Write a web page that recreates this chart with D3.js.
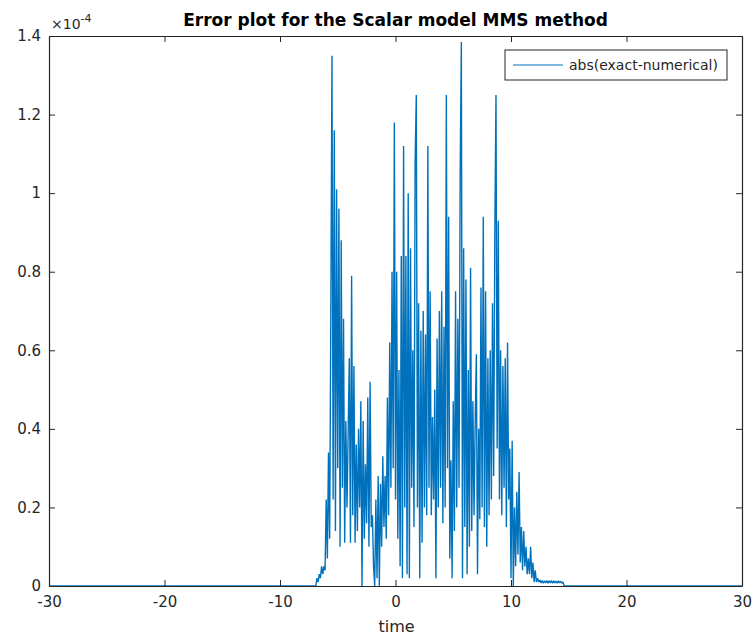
<!DOCTYPE html>
<html>
<head>
<meta charset="utf-8">
<script src="https://cdn.jsdelivr.net/npm/d3@7"></script>
<style>
  body { margin: 0; background: #fff; }
  svg { display: block; font-family: "DejaVu Sans", sans-serif; }
</style>
</head>
<body>
<svg width="756" height="638"></svg>
<script>
(function() {
    const tStart = -7.0;
    const tStep = 0.1;
    const errValues = [
        0, 0, 0.02, 0.01, 0.03, 0.02, 0.05, 0.03, 0.05, 0.04,
        0.22, 0.07, 0.34, 0.12, 0.68, 1.35, 0.22, 1.16, 0.14, 1.01,
        0.30, 0.96, 0.10, 0.88, 0.25, 0.68, 0.11, 0.42, 0.20, 0.39,
        0.58, 0.11, 0.79, 0.18, 0.56, 0.11, 0.36, 0.14, 0.40, 0.20,
        0.47, 0.00, 0.42, 0.12, 0.31, 0.16, 0.48, 0.10, 0.52, 0.15,
        0.18, 0.05, 0.00, 0.22, 0.02, 0.28, 0.00, 0.26, 0.10, 0.33,
        0.15, 0.28, 0.12, 0.48, 0.18, 0.62, 0.25, 0.80, 0.30, 1.18,
        0.22, 0.80, 0.12, 0.55, 0.05, 0.84, 0.02, 1.12, 0.20, 0.84,
        0.03, 1.00, 0.02, 0.86, 0.25, 0.60, 0.15, 1.08, 1.25, 0.20,
        0.72, 0.02, 0.65, 0.11, 0.70, 0.20, 0.64, 0.18, 1.12, 0.25,
        0.75, 0.18, 0.43, 0.22, 0.50, 0.02, 0.63, 0.20, 0.70, 0.25,
        0.75, 0.16, 0.66, 0.20, 1.25, 0.30, 0.94, 0.07, 0.32, 0.02,
        0.47, 0.14, 0.75, 0.20, 0.68, 0.25, 1.05, 1.385, 0.02, 0.86,
        0.15, 0.78, 0.03, 0.55, 0.10, 0.81, 0.14, 0.47, 0.18, 0.42,
        0.59, 0.03, 0.40, 0.17, 0.76, 0.20, 0.94, 0.15, 0.75, 0.10,
        0.58, 0.18, 0.60, 0.22, 0.72, 0.28, 0.90, 1.25, 0.35, 0.93,
        0.22, 0.60, 0.18, 0.56, 0.25, 0.58, 0.15, 0.62, 0.22, 0.35,
        0.02, 0.37, 0.00, 0.20, 0.05, 0.24, 0.08, 0.29, 0.06, 0.15,
        0.04, 0.14, 0.05, 0.10, 0.03, 0.07, 0.03, 0.10, 0.02, 0.06,
        0.01, 0.04, 0.01, 0.02, 0.01, 0.015, 0.008, 0.014, 0.007, 0.013,
        0.008, 0.014, 0.007, 0.013, 0.008, 0.014, 0.007, 0.013, 0.008, 0.012,
        0.007, 0.013, 0.008, 0.012, 0.007, 0.01, 0
    ];
    // the error is zero over the rest of the time window
    const tRange = [-30, 30];
    const xTicks = [-30, -20, -10, 0, 10, 20, 30];
    const yTicks = [0, 0.2, 0.4, 0.6, 0.8, 1, 1.2, 1.4];

    const titleText = "Error plot for the Scalar model MMS method";
    const xLabel = "time";
    const legendLabel = "abs(exact-numerical)";

    const lineColor = "#0072BD";
    const axisColor = "#262626";

    let svg = d3.select("svg");
    let margin = { left: 49, right: 14, top: 36, bottom: 52 };
    let width = +svg.attr("width") - margin.left - margin.right;
    let height = +svg.attr("height") - margin.top - margin.bottom;

    let x = d3.scaleLinear().domain(tRange).range([0, width]);
    let y = d3.scaleLinear().domain([0, 1.4]).range([height, 0]);

    let data = [{ t: tRange[0], v: 0 }];
    errValues.forEach(function(v, i) {
        data.push({ t: +(tStart + i * tStep).toFixed(2), v: v });
    });
    data.push({ t: tRange[1], v: 0 });

    let g = svg.append("g")
        .attr("transform", "translate(" + margin.left + "," + margin.top + ")");

    g.append("rect")
        .attr("width", width)
        .attr("height", height)
        .attr("fill", "#fff");

    // data line
    let line = d3.line()
        .x(d => x(d.t))
        .y(d => y(d.v));

    g.append("path")
        .datum(data)
        .attr("fill", "none")
        .attr("stroke", lineColor)
        .attr("stroke-width", 1.4)
        .attr("stroke-linejoin", "bevel")
        .attr("d", line);

    // axes, MATLAB style: ticks pointing inward on all four sides
    let fmt = d => String(+d.toFixed(1));

    let xBottom = d3.axisBottom(x).tickValues(xTicks).tickSizeInner(-6).tickSizeOuter(0).tickPadding(10).tickFormat(fmt);
    let xTop = d3.axisTop(x).tickValues(xTicks).tickSizeInner(-6).tickSizeOuter(0).tickFormat("");
    let yLeft = d3.axisLeft(y).tickValues(yTicks).tickSizeInner(-6).tickSizeOuter(0).tickPadding(8).tickFormat(fmt);
    let yRight = d3.axisRight(y).tickValues(yTicks).tickSizeInner(-6).tickSizeOuter(0).tickFormat("");

    let gxb = g.append("g").attr("transform", "translate(0," + height + ")").call(xBottom);
    let gxt = g.append("g").call(xTop);
    let gyl = g.append("g").call(yLeft);
    let gyr = g.append("g").attr("transform", "translate(" + width + ",0)").call(yRight);

    [gxb, gxt, gyl, gyr].forEach(function(a) {
        a.selectAll(".domain").attr("stroke", axisColor).attr("stroke-width", 1.2);
        a.selectAll(".tick line").attr("stroke", axisColor).attr("stroke-width", 1);
        a.selectAll(".tick text")
            .attr("fill", axisColor)
            .style("font-size", "15px")
            .style("font-family", "DejaVu Sans, sans-serif");
    });

    // exponent label over the y axis
    let expo = g.append("text")
        .attr("x", 2)
        .attr("y", -7)
        .attr("fill", axisColor)
        .style("font-size", "14px");
    expo.append("tspan").text("\u00d710");
    expo.append("tspan").attr("dy", -7).style("font-size", "11px").text("-4");

    // title
    svg.append("text")
        .attr("x", margin.left + width / 2)
        .attr("y", 26)
        .attr("text-anchor", "middle")
        .attr("fill", "#000")
        .style("font-size", "17px")
        .style("font-weight", "bold")
        .text(titleText);

    // x label
    svg.append("text")
        .attr("x", margin.left + x(0) + 1)
        .attr("y", 632)
        .attr("text-anchor", "middle")
        .attr("fill", axisColor)
        .style("font-size", "16px")
        .text(xLabel);

    // legend
    let lg = g.append("g").attr("transform", "translate(" + (505 - margin.left) + "," + (50 - margin.top) + ")");
    lg.append("rect")
        .attr("width", 222)
        .attr("height", 30)
        .attr("fill", "#fff")
        .attr("stroke", axisColor)
        .attr("stroke-width", 1);
    lg.append("line")
        .attr("x1", 8).attr("x2", 58)
        .attr("y1", 15).attr("y2", 15)
        .attr("stroke", lineColor)
        .attr("stroke-width", 1.2);
    lg.append("text")
        .attr("x", 64)
        .attr("y", 20)
        .attr("fill", axisColor)
        .style("font-size", "14px")
        .text(legendLabel);
})();
</script>
</body>
</html>
